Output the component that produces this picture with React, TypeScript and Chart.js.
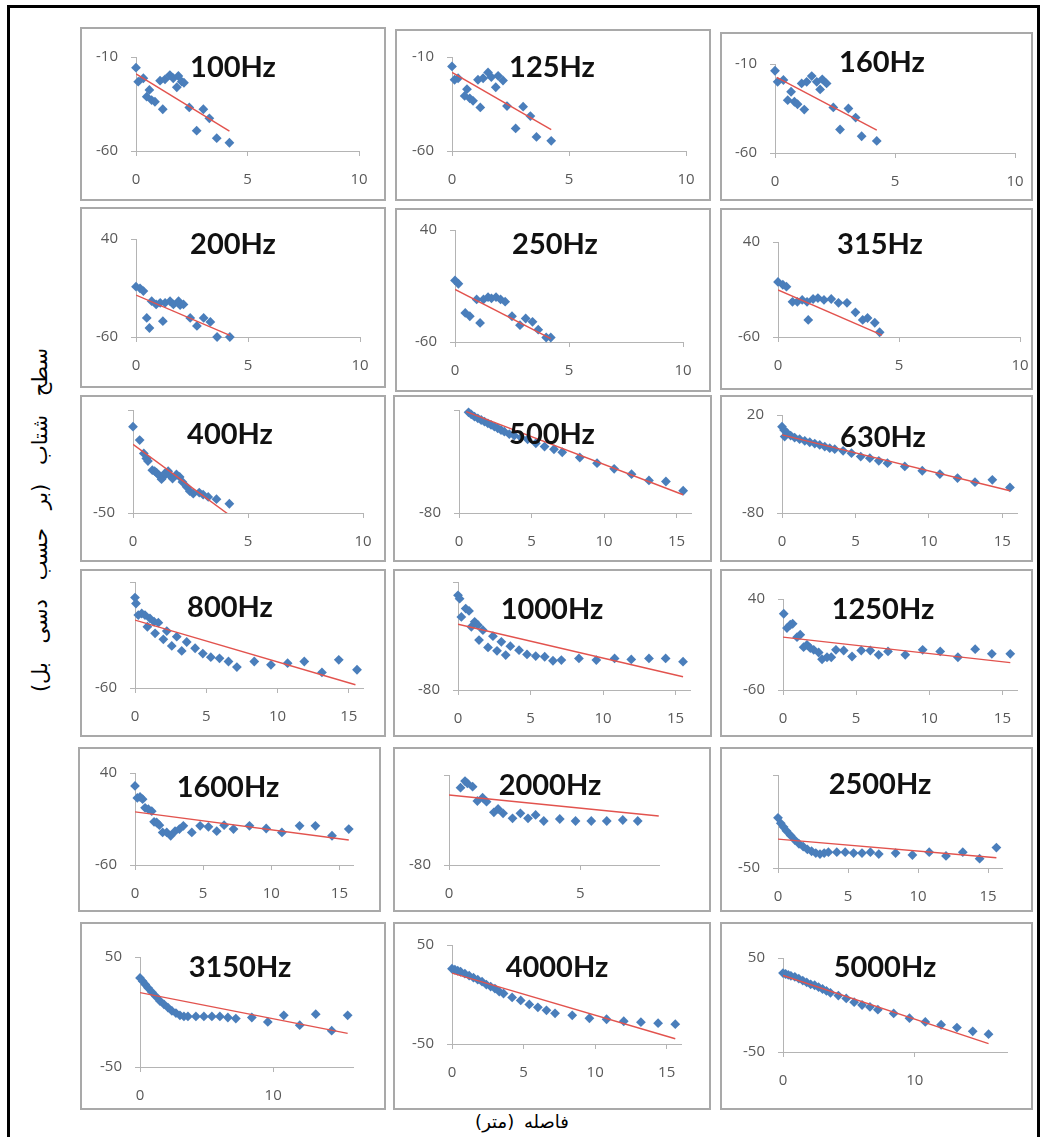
import React, { useEffect, useRef } from 'react';
import { Chart, registerables } from 'chart.js';

Chart.register(...registerables);

// ---- measured levels (dB) against distance (m) for each third-octave band ----

const hz100X = [0, 0.1, 0.33, 0.48, 0.6, 0.7, 0.85, 1.2, 1.08, 1.3, 1.52, 1.67, 1.9, 1.83, 2.05, 2.15, 2.39, 2.72, 3.02, 3.29, 3.62, 4.19];
const hz100Y = [-15.7, -23.1, -21.3, -31.1, -27.5, -32.9, -33.8, -37.8, -22.6, -21.9, -19.6, -21.3, -20.1, -26.1, -23.1, -23.7, -36.8, -49.2, -37.8, -42.6, -53.2, -55.6];
const hz100FitX = [0, 4.19];
const hz100FitY = [-19, -49.4];

const hz125X = [0, 0.11, 0.26, 0.54, 0.64, 0.76, 0.9, 1.21, 1.11, 1.33, 1.54, 1.68, 1.87, 1.97, 2.18, 2.35, 2.72, 3.04, 3.35, 3.61, 4.24];
const hz125Y = [-15, -22.1, -21.3, -30.7, -27.1, -32, -33.3, -36.8, -22.1, -21.3, -18.2, -20.7, -26.1, -20, -22.5, -36.1, -48, -36.4, -41.4, -52.5, -54.6];
const hz125FitX = [0, 4.24];
const hz125FitY = [-18.2, -48.6];

const hz160X = [0, 0.11, 0.35, 0.53, 0.67, 0.81, 0.94, 1.22, 1.11, 1.32, 1.53, 1.74, 1.88, 1.97, 2.15, 2.43, 2.71, 3.06, 3.36, 3.61, 4.24];
const hz160Y = [-13.8, -20, -19, -30.3, -25.6, -31.2, -32.6, -35.6, -20.9, -20, -16.8, -20, -24.3, -18.6, -20.9, -34.4, -46.8, -35, -40.1, -50.6, -53.2];
const hz160FitX = [0.07, 4.24];
const hz160FitY = [-17.5, -47.2];

const hz200X = [0, 0.18, 0.33, 0.48, 0.6, 0.7, 0.9, 1.2, 1.08, 1.3, 1.52, 1.67, 1.9, 1.97, 2.12, 2.42, 2.72, 3.02, 3.32, 3.62, 4.19];
const hz200Y = [-8.6, -10.3, -13.1, -40.5, -50.8, -23.4, -26.8, -43.9, -25.1, -25.1, -23.4, -26.8, -23.4, -27.5, -26.8, -40.5, -48.7, -40.5, -44.6, -60, -60];
const hz200FitX = [0, 4.19];
const hz200FitY = [-17.2, -58.3];

const hz250X = [0, 0.15, 0.45, 0.65, 0.95, 1.1, 1.25, 1.45, 1.6, 1.8, 2.0, 2.2, 2.5, 2.85, 3.1, 3.4, 3.65, 4.0, 4.2];
const hz250Y = [-5, -8, -34, -37, -22, -43, -22, -20, -21, -20, -22, -24, -37, -45, -39, -42, -49, -56, -56];
const hz250FitX = [0, 4.2];
const hz250FitY = [-13, -57];

const hz315X = [0, 0.2, 0.35, 0.6, 0.8, 1.0, 1.2, 1.25, 1.45, 1.65, 1.9, 2.2, 2.5, 2.85, 3.2, 3.5, 3.7, 4.0, 4.2];
const hz315Y = [-2, -5, -7, -23, -23, -21, -23, -42, -20, -19, -21, -20, -24, -24, -34, -42, -40, -45, -55];
const hz315FitX = [0, 4.3];
const hz315FitY = [-10.5, -58];

const hz400X = [0, 0.29, 0.47, 0.58, 0.65, 0.84, 0.94, 1.02, 1.13, 1.24, 1.31, 1.38, 1.53, 1.63, 1.72, 1.89, 2.03, 2.15, 2.33, 2.47, 2.62, 2.88, 3.05, 3.27, 3.63, 4.19];
const hz400Y = [-8.1, -14.6, -21.1, -23.5, -24.8, -29.2, -29.7, -30.4, -31.7, -33.6, -32.5, -30.8, -29.7, -32, -33.3, -31.3, -32.5, -34.9, -37.3, -39.4, -40.6, -40.1, -41.1, -42.2, -43.3, -45.5];
const hz400FitX = [0, 4.19];
const hz400FitY = [-16.7, -51];

const hz500X = [0.66, 0.84, 1.07, 1.3, 1.53, 1.76, 1.99, 2.21, 2.44, 2.67, 2.9, 3.13, 3.47, 3.81, 4.27, 4.73, 5.3, 5.9, 6.55, 7.12, 8.33, 9.52, 10.7, 11.9, 13.1, 14.27, 15.46];
const hz500Y = [17.7, 15.8, 13.5, 11.9, 10.3, 8.7, 7.1, 5.5, 3.9, 2.3, 0.6, -1, -3.5, -4.8, -6.8, -8.4, -12.3, -15.5, -18.1, -21, -26.1, -31.6, -37.1, -42.3, -48.4, -49.4, -58.4];
const hz500FitX = [0.5, 15.46];
const hz500FitY = [18.4, -62.3];

const hz630X = [0, 0.14, 0.18, 0.36, 0.59, 0.86, 1.2, 1.55, 1.89, 2.23, 2.57, 2.91, 3.25, 3.59, 4.16, 4.73, 5.36, 5.98, 6.59, 7.18, 8.36, 9.55, 10.75, 11.95, 13.14, 14.32, 15.52];
const hz630Y = [8.1, 4.7, -2, 1.4, -1, -3, -4.7, -6.4, -7.8, -9.2, -10.5, -12.2, -13.9, -14.9, -16.6, -19, -22.4, -24.1, -26.8, -29.2, -32.5, -36.9, -40.3, -44.4, -48.5, -46.1, -53.9];
const hz630FitX = [0, 15.52];
const hz630FitY = [-0.3, -57.3];

const hz800X = [0, 0.07, 0.23, 0.47, 0.7, 0.87, 1.05, 1.34, 1.41, 1.64, 1.99, 2.23, 2.58, 2.93, 3.28, 3.63, 4.22, 4.76, 5.32, 5.93, 6.56, 7.15, 8.37, 9.54, 10.71, 11.88, 13.12, 14.3, 15.58];
const hz800Y = [25.3, 19.7, 8.8, 10.3, 8.8, -2.2, 5.6, 2.5, -8.4, 1.6, -14.1, -6.3, -20.3, -11.6, -25, -16.6, -22.5, -27.5, -30.9, -32, -35, -40.3, -35, -38.1, -36.6, -35, -45.3, -33.4, -42.8];
const hz800FitX = [0, 15.47];
const hz800FitY = [4.1, -56.9];

const hz1000X = [0, 0.11, 0.23, 0.53, 0.76, 0.92, 1.15, 1.38, 1.45, 1.72, 2.07, 2.41, 2.69, 2.99, 3.29, 3.61, 4.21, 4.76, 5.36, 5.98, 6.55, 7.13, 8.34, 9.54, 10.8, 11.95, 13.17, 14.32, 15.52];
const hz1000Y = [7.7, 4.6, -12.3, -4.6, -6.8, -21.5, -16.9, -20, -33.8, -24.6, -40.6, -30.2, -43.7, -35.4, -47.7, -39.4, -43.1, -47.1, -48.6, -49.2, -52.9, -52.3, -50.8, -52.3, -50.8, -51.7, -50.8, -50.8, -53.8];
const hz1000FitX = [0, 15.52];
const hz1000FitY = [-19.1, -67.7];

const hz1250X = [0.05, 0.27, 0.5, 0.66, 0.96, 1.18, 1.41, 1.64, 1.87, 2.1, 2.44, 2.67, 3.01, 3.3, 3.62, 4.15, 4.72, 5.35, 5.97, 6.54, 7.18, 8.36, 9.55, 10.75, 11.96, 13.14, 14.28, 15.54];
const hz1250Y = [23.8, 8, 11.7, 12.8, -1.9, 0.7, -12.9, -10.4, -14, -15.9, -18.8, -26.2, -24, -24, -15.9, -16.6, -23.2, -16.6, -16.6, -21.4, -17.6, -21.4, -15.9, -17.6, -24, -15.1, -20.3, -20.3];
const hz1250FitX = [0, 15.54];
const hz1250FitY = [-1.9, -29.9];

const hz1600X = [0, 0.17, 0.37, 0.56, 0.74, 0.98, 1.23, 1.4, 1.59, 1.79, 2.03, 2.33, 2.62, 2.94, 3.26, 3.55, 4.17, 4.78, 5.39, 6.0, 6.54, 7.23, 8.4, 9.63, 10.78, 12.08, 13.24, 14.46, 15.69];
const hz1600Y = [25.9, 12.9, 14, 11.5, 2.1, 0.6, -1.5, -13.1, -13.8, -16.7, -24.6, -24.6, -28.2, -23.2, -21, -17.4, -24.6, -17.4, -18.5, -23.2, -16.7, -21, -17.4, -20.3, -24.6, -17.4, -17.4, -28.2, -21];
const hz1600FitX = [0, 15.69];
const hz1600FitY = [-2.2, -32.9];

const hz2000X = [0.44, 0.61, 0.7, 0.9, 1.08, 1.28, 1.43, 1.71, 1.87, 2.06, 2.42, 2.72, 3.01, 3.3, 3.61, 4.22, 4.82, 5.42, 6.01, 6.62, 7.19];
const hz2000Y = [5.9, 13.3, 10.7, 7, -8.9, -5.2, -9.6, -21.5, -17.8, -22.6, -28.1, -22.6, -28.1, -24.4, -31.1, -28.9, -31.1, -31.1, -31.1, -30, -31.1];
const hz2000FitX = [0, 7.99];
const hz2000FitY = [-2.2, -25.6];

// far-field positions shared by the upper bands
const farX = [0, 0.2, 0.4, 0.6, 0.9, 1.2, 1.5, 1.8, 2.1, 2.4, 2.7, 3.0, 3.3, 3.6, 4.2, 4.8, 5.4, 6.0, 6.6, 7.2, 8.4, 9.6, 10.8, 12, 13.2, 14.4, 15.6];

const hz2500Y = [4, -2, -6, -10, -15, -20, -24, -27, -30, -32, -34, -35, -34, -33, -33, -33, -34, -34, -33, -35, -34, -36, -33, -37, -33, -40, -28];
const hz2500FitX = [0, 15.6];
const hz2500FitY = [-19, -39];

const hz3150Y = [31, 28, 25, 22, 18, 14, 10, 7, 4, 1, -1, -3, -4, -4, -4, -4, -4, -4, -5, -6, -5, -9, -3, -12, -2, -17, -3];
const hz3150FitX = [0, 15.6];
const hz3150FitY = [17.6, -19.4];

const hz4000Y = [26, 25, 24, 23, 21, 19, 17, 15, 13, 10, 8, 6, 3, 1, -3, -6, -10, -13, -16, -19, -21, -24, -25, -27, -28, -29, -30];
const hz4000FitX = [0, 15.6];
const hz4000FitY = [21.6, -44.7];

const hz5000Y = [34, 33, 32, 31, 30, 28, 26, 24, 22, 21, 19, 17, 15, 13, 10, 7, 3, 0, -2, -5, -9, -14, -18, -21, -24, -28, -31];
const hz5000FitX = [0, 15.6];
const hz5000FitY = [31.5, -41];

// ---- axis settings ----
const ticks10 = [0, 5, 10];
const ticks15 = [0, 5, 10, 15];
const ticks5 = [0, 5];
const ticksDecade = [0, 10];

const yAxisTitle = 'سطح شتاب (بر حسب دسی بل)';
const xAxisTitle = 'فاصله (متر)';

type Spec = {
  title: string;
  xs: number[];
  ys: number[];
  fitX: number[];
  fitY: number[];
  xMax: number;
  xTicks: number[];
  yMin: number;
  yMax: number;
  yLabels: number[];
};

const specs: Spec[] = [
  { title: '100Hz', xs: hz100X, ys: hz100Y, fitX: hz100FitX, fitY: hz100FitY, xMax: 10, xTicks: ticks10, yMin: -60, yMax: -10, yLabels: [-60, -10] },
  { title: '125Hz', xs: hz125X, ys: hz125Y, fitX: hz125FitX, fitY: hz125FitY, xMax: 10, xTicks: ticks10, yMin: -60, yMax: -10, yLabels: [-60, -10] },
  { title: '160Hz', xs: hz160X, ys: hz160Y, fitX: hz160FitX, fitY: hz160FitY, xMax: 10, xTicks: ticks10, yMin: -60, yMax: -10, yLabels: [-60, -10] },
  { title: '200Hz', xs: hz200X, ys: hz200Y, fitX: hz200FitX, fitY: hz200FitY, xMax: 10, xTicks: ticks10, yMin: -60, yMax: 40, yLabels: [-60, 40] },
  { title: '250Hz', xs: hz250X, ys: hz250Y, fitX: hz250FitX, fitY: hz250FitY, xMax: 10, xTicks: ticks10, yMin: -60, yMax: 40, yLabels: [-60, 40] },
  { title: '315Hz', xs: hz315X, ys: hz315Y, fitX: hz315FitX, fitY: hz315FitY, xMax: 10, xTicks: ticks10, yMin: -60, yMax: 40, yLabels: [-60, 40] },
  { title: '400Hz', xs: hz400X, ys: hz400Y, fitX: hz400FitX, fitY: hz400FitY, xMax: 10, xTicks: ticks10, yMin: -50, yMax: 0, yLabels: [-50] },
  { title: '500Hz', xs: hz500X, ys: hz500Y, fitX: hz500FitX, fitY: hz500FitY, xMax: 16, xTicks: ticks15, yMin: -80, yMax: 20, yLabels: [-80] },
  { title: '630Hz', xs: hz630X, ys: hz630Y, fitX: hz630FitX, fitY: hz630FitY, xMax: 16, xTicks: ticks15, yMin: -80, yMax: 20, yLabels: [-80, 20] },
  { title: '800Hz', xs: hz800X, ys: hz800Y, fitX: hz800FitX, fitY: hz800FitY, xMax: 16, xTicks: ticks15, yMin: -60, yMax: 40, yLabels: [-60] },
  { title: '1000Hz', xs: hz1000X, ys: hz1000Y, fitX: hz1000FitX, fitY: hz1000FitY, xMax: 16, xTicks: ticks15, yMin: -80, yMax: 20, yLabels: [-80] },
  { title: '1250Hz', xs: hz1250X, ys: hz1250Y, fitX: hz1250FitX, fitY: hz1250FitY, xMax: 16, xTicks: ticks15, yMin: -60, yMax: 40, yLabels: [-60, 40] },
  { title: '1600Hz', xs: hz1600X, ys: hz1600Y, fitX: hz1600FitX, fitY: hz1600FitY, xMax: 16, xTicks: ticks15, yMin: -60, yMax: 40, yLabels: [-60, 40] },
  { title: '2000Hz', xs: hz2000X, ys: hz2000Y, fitX: hz2000FitX, fitY: hz2000FitY, xMax: 8, xTicks: ticks5, yMin: -80, yMax: 20, yLabels: [-80] },
  { title: '2500Hz', xs: farX, ys: hz2500Y, fitX: hz2500FitX, fitY: hz2500FitY, xMax: 16, xTicks: ticks15, yMin: -50, yMax: 50, yLabels: [-50] },
  { title: '3150Hz', xs: farX, ys: hz3150Y, fitX: hz3150FitX, fitY: hz3150FitY, xMax: 16, xTicks: ticksDecade, yMin: -50, yMax: 50, yLabels: [-50, 50] },
  { title: '4000Hz', xs: farX, ys: hz4000Y, fitX: hz4000FitX, fitY: hz4000FitY, xMax: 16, xTicks: ticks15, yMin: -50, yMax: 50, yLabels: [-50, 50] },
  { title: '5000Hz', xs: farX, ys: hz5000Y, fitX: hz5000FitX, fitY: hz5000FitY, xMax: 17, xTicks: ticksDecade, yMin: -50, yMax: 50, yLabels: [-50, 50] },
];

// ---- page layout: panel box [l, t, r, b], plot area [x0, x1, yTop, yBottom], heading centre [x, y] ----
type Frame = { box: number[]; plot: number[]; head: number[] };

const frames: Frame[] = [
  { box: [80, 27, 386, 201], plot: [136, 359, 57, 151], head: [233, 65] },
  { box: [395, 29, 711, 201], plot: [452, 686, 57, 151], head: [552, 65] },
  { box: [720, 32, 1033, 201], plot: [775, 1015, 64, 153], head: [882, 60] },

  { box: [80, 207, 386, 388], plot: [136, 360, 239, 337], head: [233, 242] },
  { box: [395, 208, 711, 392], plot: [455, 683, 230, 342], head: [555, 242] },
  { box: [720, 208, 1033, 390], plot: [778, 1020, 242, 337], head: [880, 242] },

  { box: [80, 395, 386, 562], plot: [133, 363, 410, 513], head: [230, 432] },
  { box: [393, 395, 712, 562], plot: [459, 691, 410, 513], head: [552, 432] },
  { box: [720, 395, 1033, 562], plot: [782, 1017, 415, 513], head: [883, 435] },

  { box: [80, 569, 386, 737], plot: [135, 363, 582, 688], head: [230, 605] },
  { box: [393, 569, 712, 737], plot: [458, 690, 582, 690], head: [552, 607] },
  { box: [720, 569, 1033, 737], plot: [783, 1017, 599, 690], head: [883, 607] },

  { box: [78, 747, 381, 912], plot: [135, 353, 773, 865], head: [228, 785] },
  { box: [393, 747, 711, 912], plot: [449, 659, 775, 865], head: [550, 783] },
  { box: [720, 747, 1033, 912], plot: [778, 1002, 775, 868], head: [880, 782] },

  { box: [80, 922, 386, 1110], plot: [140, 353, 957, 1067], head: [240, 965] },
  { box: [393, 922, 711, 1110], plot: [452, 681, 945, 1044], head: [557, 965] },
  { box: [720, 922, 1033, 1110], plot: [783, 1007, 958, 1052], head: [885, 965] },
];

const AXIS = '#b4b4b4';
const TICK_TEXT = '#595959';
const MARKER = '#4a7ebb';
const FIT = '#e2534e';
const Y_AXIS_W = 40;
const X_AXIS_H = 40;

function Panel({ spec, frame }: { spec: Spec; frame: Frame }) {
  const ref = useRef<HTMLCanvasElement>(null);
  const [l, t, r, b] = frame.box;
  const [x0, x1, yT, yB] = frame.plot;
  const w = r - l;
  const h = b - t;

  useEffect(() => {
    const tickFont = { family: '"Open Sans", sans-serif', size: 15 };
    const chart = new Chart(ref.current as HTMLCanvasElement, {
      type: 'scatter',
      data: {
        datasets: [
          {
            type: 'line',
            data: spec.fitX.map((x, i) => ({ x, y: spec.fitY[i] })),
            borderColor: FIT,
            borderWidth: 1.4,
            pointRadius: 0,
            fill: false,
            tension: 0,
          } as any,
          {
            data: spec.xs.map((x, i) => ({ x, y: spec.ys[i] })),
            pointStyle: 'rectRot',
            pointRadius: 4.9,
            pointBackgroundColor: MARKER,
            pointBorderWidth: 0,
            backgroundColor: MARKER,
            borderColor: MARKER,
            clip: false,
          } as any,
        ],
      },
      options: {
        animation: false,
        responsive: false,
        maintainAspectRatio: false,
        events: [],
        layout: {
          autoPadding: false,
          padding: {
            left: x0 - l - Y_AXIS_W,
            right: r - x1,
            top: yT - t,
            bottom: b - yB - X_AXIS_H,
          },
        },
        plugins: { legend: { display: false }, tooltip: { enabled: false }, title: { display: false } },
        scales: {
          x: {
            type: 'linear',
            min: 0,
            max: spec.xMax,
            afterBuildTicks: (s: any) => {
              s.ticks = spec.xTicks.map((v) => ({ value: v }));
            },
            afterFit: (s: any) => {
              s.height = X_AXIS_H;
              s.paddingLeft = 0;
              s.paddingRight = 0;
            },
            ticks: { color: TICK_TEXT, font: tickFont, padding: 15, maxRotation: 0, autoSkip: false },
            grid: { display: true, drawOnChartArea: false, drawTicks: true, tickLength: 5, color: AXIS, lineWidth: 1 },
            border: { display: true, color: AXIS, width: 1 },
          },
          y: {
            type: 'linear',
            min: spec.yMin,
            max: spec.yMax,
            afterBuildTicks: (s: any) => {
              s.ticks = [{ value: spec.yMin }, { value: spec.yMax }];
            },
            afterFit: (s: any) => {
              s.width = Y_AXIS_W;
              s.paddingTop = 0;
              s.paddingBottom = 0;
            },
            ticks: {
              color: TICK_TEXT,
              font: tickFont,
              padding: 13,
              autoSkip: false,
              callback: (v: any) => (spec.yLabels.includes(Number(v)) ? String(v) : ''),
            },
            grid: { display: true, drawOnChartArea: false, drawTicks: true, tickLength: 5, color: AXIS, lineWidth: 1 },
            border: { display: true, color: AXIS, width: 1 },
          },
        },
      } as any,
    });
    return () => chart.destroy();
  }, []);

  return (
    <div style={{ position: 'absolute', left: l, top: t, width: w, height: h, background: '#fff' }}>
      <canvas ref={ref} width={w} height={h} style={{ position: 'absolute', left: 0, top: 0, width: w, height: h }} />
      <div
        style={{
          position: 'absolute',
          left: 0,
          top: 0,
          width: w,
          height: h,
          boxSizing: 'border-box',
          border: '2px solid #a9a9a9',
        }}
      />
      <div
        style={{
          position: 'absolute',
          left: frame.head[0] - l,
          top: frame.head[1] - t,
          transform: 'translate(-50%, -50%)',
          fontFamily: 'Lato, "Open Sans", sans-serif',
          fontWeight: 700,
          fontSize: 29,
          color: '#111',
          whiteSpace: 'nowrap',
          lineHeight: 1,
        }}
      >
        {spec.title}
      </div>
    </div>
  );
}

export default function App() {
  return (
    <div style={{ position: 'fixed', left: 0, top: 0, width: 1041, height: 1137, overflow: 'hidden', background: '#fff' }}>
      <div
        style={{
          position: 'absolute',
          left: 7,
          top: 5,
          width: 1027,
          height: 1160,
          borderLeft: '3px solid #000',
          borderTop: '3px solid #000',
          borderRight: '3px solid #000',
        }}
      />
      {specs.map((s, i) => (
        <Panel key={s.title} spec={s} frame={frames[i]} />
      ))}
      <div
        style={{
          position: 'absolute',
          left: 40,
          top: 520,
          transform: 'translate(-50%, -50%) rotate(-90deg)',
          fontFamily: '"DejaVu Sans", sans-serif',
          fontSize: 21,
          wordSpacing: 12,
          whiteSpace: 'nowrap',
          direction: 'rtl',
          color: '#000',
        }}
      >
        {yAxisTitle}
      </div>
      <div
        style={{
          position: 'absolute',
          left: 522,
          top: 1121,
          transform: 'translate(-50%, -50%)',
          fontFamily: '"DejaVu Sans", sans-serif',
          fontSize: 18,
          wordSpacing: 4,
          whiteSpace: 'nowrap',
          direction: 'rtl',
          color: '#000',
        }}
      >
        {xAxisTitle}
      </div>
    </div>
  );
}
